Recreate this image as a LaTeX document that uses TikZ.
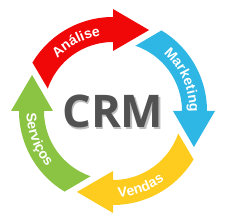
\documentclass[tikz,border=0pt]{standalone}
\usepackage{fontspec}
\newfontfamily\crmfont{Open Sans}
\newfontfamily\crmlabelfont{Liberation Sans}
\usepackage{tikz}
\usetikzlibrary{decorations.text}

\definecolor{crmred}{RGB}{240,8,8}
\definecolor{crmblue}{RGB}{46,183,228}
\definecolor{crmyellow}{RGB}{253,204,30}
\definecolor{crmgreen}{RGB}{139,195,66}
\definecolor{crmgray}{RGB}{82,82,82}

\newcommand{\lblset}{\crmlabelfont\bfseries\fontsize{14}{16}\selectfont}

\tikzset{
  cyclearrow/.pic={
    \fill[pic actions] (149:94) arc[start angle=149, end angle=90, radius=94]
      -- (90:102) -- (66:88.6) -- (90:60) -- (90:69)
      arc[start angle=90, end angle=161, radius=69] -- cycle;
  }
}

\begin{document}
\begin{tikzpicture}[x=1pt, y=1pt,
    lbl/.style={decorate, decoration={text along path, text align=center, text color=white, text={|\lblset|#1}}},
    crmtext/.style={inner sep=0pt, font=\crmfont\bfseries\fontsize{45}{45}\selectfont}
]
\useasboundingbox (-113,-111) rectangle (114,111);

% arrows of the cycle
\pic[fill=crmred] {cyclearrow};
\pic[fill=crmblue, rotate=-90] {cyclearrow};
\pic[fill=crmyellow, rotate=180] {cyclearrow};
\pic[fill=crmgreen, rotate=90] {cyclearrow};

% labels on the arrows
\path[lbl=Análise] (150:76.5) arc[start angle=150, end angle=86, radius=76.5];
\path[lbl=Marketing] (60:76.5) arc[start angle=60, end angle=-12, radius=76.5];
\path[lbl=Vendas] (-105:86.5) arc[start angle=-105, end angle=-35, radius=86.5];
\path[lbl=Serviços] (165:86.5) arc[start angle=165, end angle=237, radius=86.5];

% centre
\node[crmtext, text=black, opacity=0.25] (crmshadow) at (1.2,-2) {CRM};
\node[crmtext, text=crmgray] (crm) at (0,0) {CRM};
\end{tikzpicture}
\end{document}
